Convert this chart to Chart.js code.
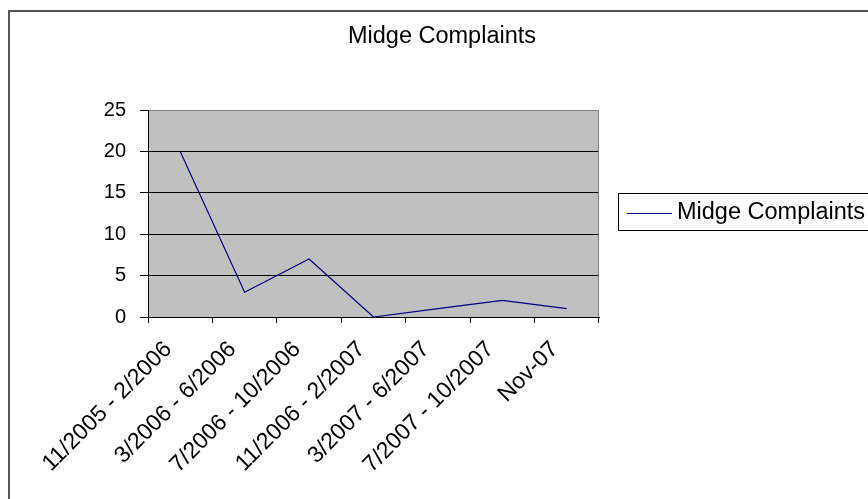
<!DOCTYPE html>
<html><head><meta charset="utf-8">
<style>html,body{margin:0;padding:0;background:#fff;} #wrap{width:868px;height:499px;position:relative;}</style>
<script src="https://cdn.jsdelivr.net/npm/chart.js@4"></script>
</head><body><div id="wrap"><canvas id="c" width="868" height="499"></canvas></div>
<script>
const chartTitle = 'Midge Complaints';
const seriesName = 'Midge Complaints';
const categories = ['11/2005 - 2/2006','3/2006 - 6/2006','7/2006 - 10/2006','11/2006 - 2/2007','3/2007 - 6/2007','7/2007 - 10/2007','Nov-07'];
const complaints = [20, 3, 7, 0, 1, 2, 1];
const yMin = 0, yMax = 25, yStep = 5;

const FONT = '"Liberation Sans", Arial, sans-serif';

const decor = {
  id: 'decor',
  beforeDraw(chart) {
    const {ctx, chartArea: a} = chart;
    ctx.save();
    ctx.fillStyle = '#fff';
    ctx.fillRect(0, 0, chart.width, chart.height);
    ctx.fillStyle = '#C0C0C0';
    ctx.fillRect(a.left, a.top, a.right - a.left, a.bottom - a.top);
    ctx.restore();
  },
  beforeDatasetsDraw(chart) {
    const {ctx, chartArea: a} = chart;
    ctx.save();
    ctx.strokeStyle = '#808080';
    ctx.lineWidth = 1;
    ctx.beginPath();
    ctx.moveTo(a.right - 0.5, a.top);
    ctx.lineTo(a.right - 0.5, a.bottom);
    ctx.stroke();
    ctx.restore();
  },
  afterDraw(chart) {
    const {ctx} = chart;
    ctx.save();
    // outer chart border
    ctx.strokeStyle = '#555555';
    ctx.lineWidth = 2;
    ctx.strokeRect(9, 11, 880, 500);
    // title
    ctx.fillStyle = '#000';
    ctx.font = '23.5px ' + FONT;
    ctx.textAlign = 'center';
    ctx.textBaseline = 'middle';
    ctx.fillText(chartTitle, 442, 37);
    // legend
    const ds = chart.data.datasets[0];
    ctx.lineWidth = 1;
    ctx.strokeStyle = '#000';
    ctx.strokeRect(618.5, 193.5, 260, 37);
    ctx.strokeStyle = ds.borderColor;
    ctx.lineWidth = 1.2;
    ctx.beginPath();
    ctx.moveTo(627, 213.5);
    ctx.lineTo(672, 213.5);
    ctx.stroke();
    ctx.fillStyle = '#000';
    ctx.textAlign = 'left';
    ctx.font = '23.5px ' + FONT;
    ctx.fillText(ds.label, 677, 213);
    ctx.restore();
  }
};

new Chart(document.getElementById('c'), {
  type: 'line',
  data: {
    labels: categories,
    datasets: [{
      label: seriesName,
      data: complaints,
      borderColor: '#000080',
      borderWidth: 1.2,
      pointRadius: 0,
      tension: 0,
      fill: false
    }]
  },
  options: {
    responsive: false,
    animation: false,
    devicePixelRatio: 1,
    layout: { padding: { top: 110, right: 269, bottom: 0, left: 0 } },
    plugins: { legend: { display: false }, title: { display: false }, tooltip: { enabled: false } },
    scales: {
      x: {
        offset: true,
        grid: { offset: true, drawOnChartArea: false, drawTicks: true, tickLength: 6, color: '#000', tickColor: '#000', lineWidth: 1 },
        border: { display: true, color: '#000', width: 1 },
        ticks: { autoSkip: false, minRotation: 45, maxRotation: 45, color: '#000', font: { family: FONT, size: 23 }, padding: 13, labelOffset: -12 },
        afterFit(s) { s.height = 182; }
      },
      y: {
        min: yMin, max: yMax,
        grid: {
          drawTicks: true, tickLength: 8, tickColor: '#000', lineWidth: 1,
          color: (c) => (c.tick && c.tick.value === yMax) ? '#808080' : '#000'
        },
        border: { display: true, color: '#000', width: 1 },
        ticks: { stepSize: yStep, color: '#000', font: { family: FONT, size: 20 }, padding: 14 },
        afterFit(s) { s.width = 148; }
      }
    }
  },
  plugins: [decor]
});
</script></body></html>
